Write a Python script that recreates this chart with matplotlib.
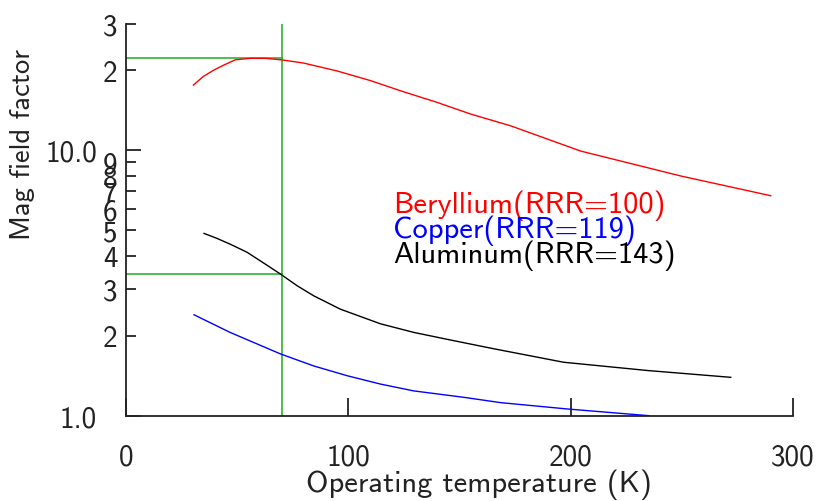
import matplotlib
matplotlib.use("Agg")
import matplotlib.pyplot as plt
from matplotlib.ticker import FixedLocator, FixedFormatter

# Data
be_T = [30.3, 34.8, 39.3, 43.8, 49.1, 55.9, 62.6, 70.1, 79.9, 94.9, 109.9,
        124.9, 139.9, 154.9, 172.9, 204.5, 249.5, 290]
be_v = [17.6, 18.97, 20.0, 20.9, 21.9, 22.2, 22.2, 21.9, 21.3, 19.9, 18.3,
        16.6, 15.15, 13.7, 12.37, 9.93, 8.0, 6.74]

cu_T = [30.6, 46.8, 69.4, 84.4, 99.4, 114.4, 129.4, 151.9, 168.5, 198.5, 235.3]
cu_v = [2.40, 2.06, 1.71, 1.54, 1.415, 1.316, 1.24, 1.173, 1.12, 1.06, 1.0]

al_T = [35.1, 40.8, 46.8, 54.4, 61.9, 69.4, 76.9, 84.4, 96.4, 114.4, 129.4,
        144.4, 165, 196.8, 234.5, 272]
al_v = [4.86, 4.66, 4.43, 4.13, 3.76, 3.42, 3.09, 2.83, 2.52, 2.22, 2.06,
        1.94, 1.79, 1.59, 1.48, 1.395]

op_T = 70
be_at_op = 22.2
al_at_op = 3.43

ymajor = [1, 10]
ymajor_labels = ["1.0", "10.0"]
yminor = [2, 3, 4, 5, 6, 7, 8, 9, 20, 30]
yminor_labels = ["2", "3", "4", "5", "6", "7", "8", "9", "2", "3"]
xticks = [0, 100, 200, 300]

labels = ["Beryllium(RRR=100)", "Copper(RRR=119)", "Aluminum(RRR=143)"]
label_y = [5.85, 4.71, 3.78]
label_colors = ["#ff0000", "#0000ff", "#000000"]

plt.rcParams['font.family'] = ['cmss10', 'DejaVu Sans']
plt.rcParams['axes.unicode_minus'] = False

fig = plt.figure(figsize=(8.18, 5.02), dpi=100)
ax = fig.add_axes([126/818, 1-416.7/502, (793-126)/818, (416.7-24.6)/502])
ax.set_yscale('log')
ax.set_xlim(0, 300)
ax.set_ylim(1, 30)

green = '#22aa22'
ax.plot([op_T, op_T], [1, 30], color=green, lw=1.1, zorder=2)
ax.plot([0, op_T], [be_at_op, be_at_op], color=green, lw=1.1, zorder=2)
ax.plot([0, op_T], [al_at_op, al_at_op], color=green, lw=1.1, zorder=2)

ax.plot(be_T, be_v, color='#ff0000', lw=1.0, zorder=3)
ax.plot(cu_T, cu_v, color='#0000ff', lw=1.0, zorder=3)
ax.plot(al_T, al_v, color='#000000', lw=1.0, zorder=3)

for t, y, c in zip(labels, label_y, label_colors):
    ax.text(120, y, t, color=c, fontsize=22, va='baseline', ha='left')

for s in ['top', 'right']:
    ax.spines[s].set_visible(False)
for s in ['left', 'bottom']:
    ax.spines[s].set_linewidth(1.3)
    ax.spines[s].set_color('#222222')

ax.yaxis.set_major_locator(FixedLocator(ymajor))
ax.yaxis.set_major_formatter(FixedFormatter(ymajor_labels))
ax.yaxis.set_minor_locator(FixedLocator(yminor))
ax.yaxis.set_minor_formatter(FixedFormatter(yminor_labels))
ax.set_xticks(xticks)
ax.set_xticklabels([str(v) for v in xticks])

ax.tick_params(axis='y', which='major', direction='in', length=11, width=1.3,
               pad=21, labelsize=21, colors='#222222')
ax.tick_params(axis='y', which='minor', direction='in', length=7, width=1.3,
               pad=6, labelsize=21, colors='#222222')
ax.tick_params(axis='x', which='major', direction='in', length=13, width=1.3,
               pad=20, labelsize=21, colors='#222222')
ax.tick_params(axis='x', which='minor', bottom=False)

ax.set_xlabel("Operating temperature (K)", fontsize=22, color='#222222')
ax.xaxis.set_label_coords(0.529, -0.135)
ax.set_ylabel("Mag field factor", fontsize=20.5, color='#222222')
ax.yaxis.set_label_coords(-0.136, 0.693)

fig.savefig("out.png", dpi=100)
